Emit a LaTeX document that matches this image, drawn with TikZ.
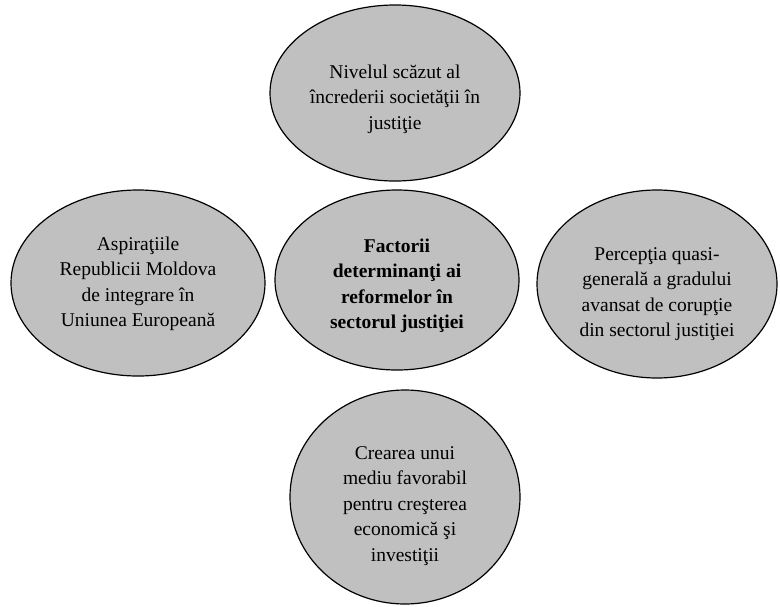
\documentclass[tikz,border=0pt]{standalone}
\usepackage{fontspec}
\setmainfont{Liberation Serif}
\usetikzlibrary{shapes.geometric}
\definecolor{ovalgray}{RGB}{192, 192, 192}

\begin{document}
\begin{tikzpicture}[x=1pt, y=-1pt,
    every node/.style={font=\fontsize{19.5}{25.5}\selectfont},
    factor/.style={draw, ellipse, fill=ovalgray, line width=1.2pt, inner sep=0pt},
    factortext/.style={align=center, inner sep=0pt}]
    \useasboundingbox (0, 0) rectangle (780, 606);

    % Ovals
    \node[factor, minimum width=244, minimum height=180] (core) at (397, 280) {};
    \node[factor, minimum width=250, minimum height=176] (trust) at (395, 93) {};
    \node[factor, minimum width=254, minimum height=186] (europe) at (138, 283) {};
    \node[factor, minimum width=240, minimum height=188] (corrupt) at (657, 284) {};
    \node[factor, minimum width=230, minimum height=214] (growth) at (405, 497) {};

    % Texts
    \node[factortext, font=\fontsize{19.5}{25.5}\selectfont\bfseries] (coretext) at ([yshift=-6pt]core.center)
        {Factorii\\determinanţi ai\\reformelor în\\sectorul justiţiei};
    \node[factortext] (trusttext) at ([yshift=-6pt]trust.center)
        {Nivelul scăzut al\\încrederii societăţii în\\justiţie};
    \node[factortext] (europetext) at ([yshift=-1pt]europe.center)
        {Aspiraţiile\\Republicii Moldova\\de integrare în\\Uniunea Europeană};
    \node[factortext] (corrupttext) at ([yshift=-10pt]corrupt.center)
        {Percepţia quasi-\\generală a gradului\\avansat de corupţie\\din sectorul justiţiei};
    \node[factortext] (growthtext) at ([yshift=-9pt]growth.center)
        {Crearea unui\\mediu favorabil\\pentru creşterea\\economică şi\\investiţii};
\end{tikzpicture}
\end{document}
